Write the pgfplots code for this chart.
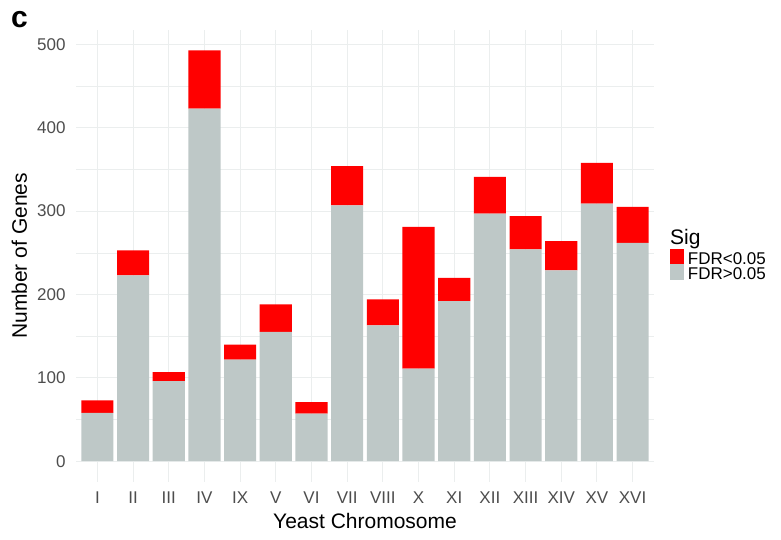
\documentclass[border=0pt]{standalone}
\usepackage{fontspec}
\setmainfont{Liberation Sans}
\usepackage{pgfplots}
\usepackage{pgfplotstable}
\pgfplotsset{compat=1.18}
\definecolor{sigred}{RGB}{255,0,0}
\definecolor{nsgrey}{RGB}{190,200,199}
\definecolor{tickgrey}{RGB}{77,77,77}
\definecolor{gridgrey}{RGB}{235,238,238}

% chromosome order as in the figure: I II III IV IX V VI VII VIII X XI XII XIII XIV XV XVI
\pgfplotstableread{
x  grey red
0  58   15
1  223  30
2  96   11
3  423  70
4  122  18
5  155  33
6  57   14
7  307  47
8  163  31
9  111  170
10 192  28
11 297  44
12 254  40
13 229  35
14 309  49
15 262  43
}\genes

\begin{document}
\begin{tikzpicture}
\useasboundingbox (0pt,0pt) rectangle (781pt,539pt);
\begin{axis}[
    at={(76pt,57.3pt)}, anchor=south west,
    width=578pt, height=451.7pt, scale only axis,
    ybar stacked, bar width=0.9,
    xmin=-0.6, xmax=15.6, ymin=-24.6, ymax=517.3,
    xtick={0,...,15},
    xticklabels={I,II,III,IV,IX,V,VI,VII,VIII,X,XI,XII,XIII,XIV,XV,XVI},
    ytick={0,100,...,500}, minor ytick={50,150,...,450},
    grid=both,
    major grid style={gridgrey, line width=1pt},
    minor grid style={gridgrey, line width=0.6pt},
    axis line style={draw=none},
    major tick length=0pt, minor tick length=0pt,
    /pgf/number format/assume math mode=true,
    tick label style={font=\fontsize{17}{20}\selectfont, text=tickgrey},
    xticklabel style={anchor=base, inner sep=0pt, yshift=-21.3pt},
    yticklabel style={anchor=east, inner sep=0pt, xshift=-10.3pt},
    xlabel={Yeast Chromosome}, ylabel={Number of Genes},
    label style={font=\fontsize{21}{25}\selectfont},
    xlabel style={at={(axis description cs:0.5,-0.1032)}, anchor=base},
    ylabel style={at={(axis description cs:-0.0978,0.5)}, anchor=center},
]
\addplot[fill=nsgrey, draw=none] table[x=x, y=grey] {\genes};
\addplot[fill=sigred, draw=none] table[x=x, y=red] {\genes};
\end{axis}
% panel letter
\node[anchor=base west, inner sep=0pt, font=\fontsize{30}{32}\selectfont\bfseries] at (11pt,511.3pt) {c};
% legend
\node[anchor=base west, inner sep=0pt, font=\fontsize{21}{25}\selectfont] at (670pt,294.7pt) {Sig};
\fill[sigred] (670pt,274.7pt) rectangle (684.3pt,289.7pt);
\fill[nsgrey] (670pt,259pt) rectangle (684.3pt,274.7pt);
\node[anchor=base west, inner sep=0pt, font=\fontsize{17}{20}\selectfont] at (687.7pt,274.7pt) {FDR<0.05};
\node[anchor=base west, inner sep=0pt, font=\fontsize{17}{20}\selectfont] at (687.7pt,260pt) {FDR>0.05};
\end{tikzpicture}
\end{document}
